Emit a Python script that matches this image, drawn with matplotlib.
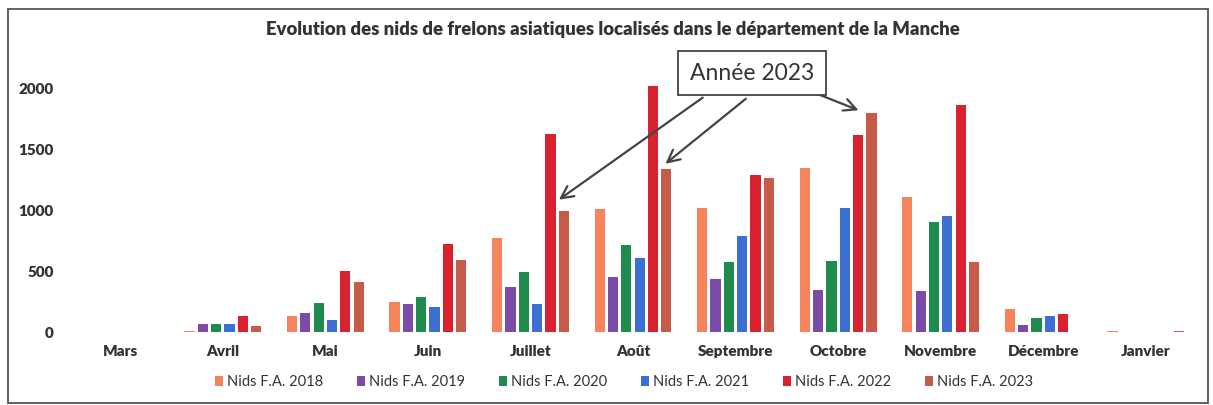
import numpy as np
import matplotlib
matplotlib.use("Agg")
import matplotlib.pyplot as plt
from matplotlib.patches import Rectangle

plt.rcParams['font.family'] = ['Lato', 'DejaVu Sans']

# data
months = ['Mars', 'Avril', 'Mai', 'Juin', 'Juillet', 'Août', 'Septembre',
          'Octobre', 'Novembre', 'Décembre', 'Janvier']
nids_2018 = [4, 6, 130, 250, 770, 1010, 1015, 1345, 1110, 190, 8]
nids_2019 = [0, 65, 158, 226, 370, 448, 437, 342, 338, 55, 0]
nids_2020 = [0, 66, 234, 284, 492, 710, 578, 580, 902, 112, 0]
nids_2021 = [0, 66, 100, 202, 232, 610, 788, 1020, 948, 128, 0]
nids_2022 = [0, 128, 500, 720, 1625, 2020, 1290, 1612, 1862, 148, 0]
nids_2023 = [0, 48, 412, 592, 992, 1335, 1262, 1800, 570, 0, 8]
series_names = ['Nids F.A. 2018', 'Nids F.A. 2019', 'Nids F.A. 2020',
                'Nids F.A. 2021', 'Nids F.A. 2022', 'Nids F.A. 2023']
colors = ['#F5845C', '#7B4BA8', '#1F8B4C', '#3B6FD1', '#D8222F', '#C65B4A']

series = [nids_2018, nids_2019, nids_2020, nids_2021, nids_2022, nids_2023]

W, H = 1213, 405
fig = plt.figure(figsize=(W / 100, H / 100), dpi=100)
ax = fig.add_axes([69 / W, 1 - 332 / H, 1128 / W, 274 / H])

x = np.arange(len(months))
slot = 0.13
bw = 0.10
for k, (vals, col, name) in enumerate(zip(series, colors, series_names)):
    off = (k - 2.5) * slot
    ax.bar(x + off, vals, width=bw, color=col, label=name)

ax.set_xlim(-0.5, len(months) - 0.5)
ax.set_ylim(0, 2247)
ax.set_yticks([0, 500, 1000, 1500, 2000])
ax.set_xticks(x)
ax.set_xticklabels(months)
for s in ax.spines.values():
    s.set_visible(False)
ax.tick_params(axis='both', length=0, labelsize=11, labelcolor='#333333')
ax.tick_params(axis='y', pad=11)
ax.tick_params(axis='x', pad=9)
for lab in ax.get_xticklabels() + ax.get_yticklabels():
    lab.set_fontweight('heavy')

fig.text(613 / W, 1 - 30 / H,
         'Evolution des nids de frelons asiatiques localisés dans le département de la Manche',
         ha='center', va='center', fontsize=13.3, fontweight='heavy', color='#333333')

fig.legend(loc='center', bbox_to_anchor=(624 / W, 1 - 382 / H), ncol=6,
           frameon=False, fontsize=10.5, handlelength=0.55, handleheight=0.7,
           handletextpad=0.3, columnspacing=2.3, labelcolor='#333333')

# annotation box with arrows to the 2023 bars
fig.text(752 / W, 1 - 73 / H, 'Année 2023', ha='center', va='center',
         fontsize=16.5, color='#333333',
         bbox=dict(boxstyle='square,pad=0.5', fc='white', ec='#444444', lw=1.3))
arrow = dict(arrowstyle='->', color='#444444', lw=1.6, mutation_scale=22)
off23 = 2.5 * slot
ax.annotate('', xy=(4 + off23 - 0.07, nids_2023[4] + 80), xycoords='data',
            xytext=(705 / W, 1 - 96 / H), textcoords='figure fraction', arrowprops=arrow)
ax.annotate('', xy=(5 + off23 - 0.03, nids_2023[5] + 30), xycoords='data',
            xytext=(748 / W, 1 - 97 / H), textcoords='figure fraction', arrowprops=arrow)
ax.annotate('', xy=(7 + off23 - 0.1, nids_2023[7] + 10), xycoords='data',
            xytext=(815 / W, 1 - 93 / H), textcoords='figure fraction', arrowprops=arrow)

# scanned frame
fig.patches.append(Rectangle((8 / W, 1 - 403 / H), 1200 / W, 394 / H,
                             transform=fig.transFigure, fill=False,
                             ec='#555555', lw=1.3))

fig.savefig('out.png', dpi=100)
